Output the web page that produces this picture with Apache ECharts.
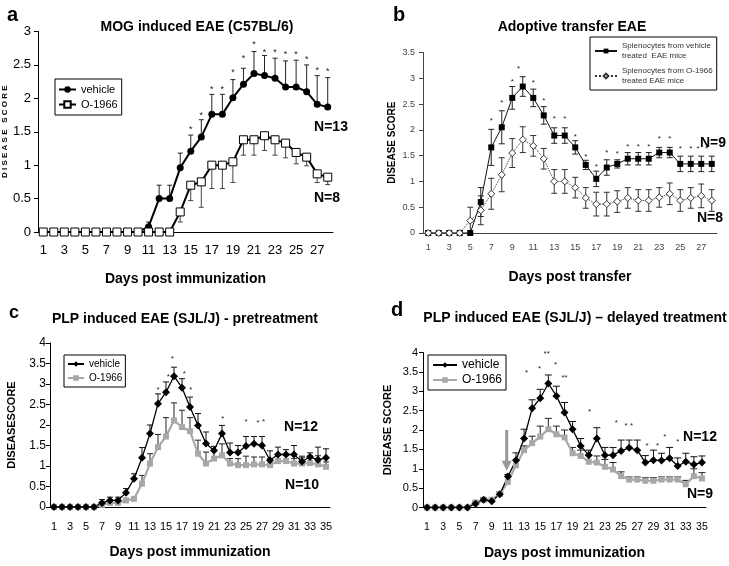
<!DOCTYPE html>
<html>
<head>
<meta charset="utf-8">
<script src="https://cdn.jsdelivr.net/npm/echarts@6/dist/echarts.min.js"></script>
<style>
  html, body { margin: 0; padding: 0; background: #fff; }
  #chart { width: 729px; height: 566px; }
</style>
</head>
<body>
<div id="chart"></div>
<script>
// ---- data ----
const days28 = ['1','2','3','4','5','6','7','8','9','10','11','12','13','14','15','16','17','18','19','20','21','22','23','24','25','26','27','28'];
const days35 = ['1','2','3','4','5','6','7','8','9','10','11','12','13','14','15','16','17','18','19','20','21','22','23','24','25','26','27','28','29','30','31','32','33','34','35'];

// a: MOG induced EAE
const aVehicle = [0,0,0,0,0,0,0,0,0,0,0.08,0.5,0.5,0.96,1.21,1.42,1.76,1.76,2.01,2.21,2.37,2.34,2.30,2.17,2.17,2.10,1.91,1.87];
const aVehicleErr = [0,0,0,0,0,0,0,0,0,0,0.07,0.2,0.2,0.22,0.24,0.26,0.30,0.30,0.27,0.24,0.33,0.30,0.30,0.39,0.40,0.40,0.43,0.44];
const aO1966 = [0,0,0,0,0,0,0,0,0,0,0,0,0,0.30,0.70,0.75,1.0,1.0,1.05,1.38,1.38,1.44,1.38,1.33,1.19,1.12,0.87,0.82];
const aO1966Err = [0,0,0,0,0,0,0,0,0,0,0,0,0,0.15,0.23,0.38,0.35,0.35,0.31,0.23,0.23,0.22,0.23,0.22,0.17,0.13,0.13,0.11];
const aStarDay = [15,16,17,18,19,20,21,22,23,24,25,26,27,28];
const aStarY = [1.54,1.74,2.13,2.13,2.38,2.59,2.80,2.68,2.68,2.65,2.65,2.58,2.42,2.40];

// b: adoptive transfer
const bVehicle = [0,0,0,0,0,0.60,1.66,2.05,2.62,2.84,2.62,2.28,1.89,1.89,1.66,1.32,1.05,1.27,1.34,1.44,1.44,1.44,1.56,1.56,1.34,1.34,1.34,1.34];
const bVehicleErr = [0,0,0,0,0,0.28,0.35,0.32,0.22,0.19,0.17,0.17,0.15,0.15,0.13,0.09,0.15,0.15,0.08,0.12,0.12,0.12,0.1,0.1,0.15,0.15,0.15,0.15];
const bO1966 = [0,0,0,0,0.24,0.44,0.76,1.13,1.55,1.81,1.69,1.44,1.0,1.0,0.88,0.68,0.56,0.56,0.61,0.68,0.63,0.63,0.69,0.76,0.63,0.68,0.72,0.63];
const bO1966Err = [0,0,0,0,0.26,0.28,0.3,0.33,0.28,0.25,0.2,0.2,0.23,0.23,0.2,0.2,0.23,0.23,0.21,0.2,0.21,0.21,0.19,0.21,0.21,0.2,0.23,0.21];
const bStarDay = [7,8,9,9.6,11,12,13,14,15,16,17,18,19,20,21,22,23,24,25,26,26.7,27.5];
const bStarY = [2.18,2.53,2.94,3.18,2.92,2.56,2.22,2.22,1.86,1.47,1.28,1.55,1.53,1.68,1.68,1.68,1.83,1.83,1.63,1.63,1.63,1.63];

// c: PLP pretreatment
const cVehicle = [0,0,0,0,0,0,0.1,0.16,0.16,0.35,0.69,1.2,1.79,2.52,2.8,3.19,2.91,2.44,1.99,1.55,1.38,1.79,1.33,1.33,1.49,1.54,1.5,1.14,1.28,1.28,1.28,1.11,1.22,1.15,1.2];
const cVehicleErr = [0,0,0,0,0,0,0.08,0.08,0.08,0.1,0.12,0.25,0.21,0.24,0.25,0.22,0.22,0.24,0.29,0.28,0.1,0.2,0.23,0.17,0.23,0.18,0.22,0.23,0.18,0.12,0.22,0.13,0.1,0.31,0.22];
const cO1966 = [0,0,0,0,0,0,0.05,0.1,0.1,0.16,0.2,0.57,1.06,1.46,1.72,2.11,1.95,1.85,1.30,1.06,1.18,1.26,1.06,1.02,1.02,1.04,1.04,1.02,1.12,1.12,1.06,1.06,1.07,1.04,0.98];
const cO1966Err = [0,0,0,0,0,0,0.05,0.05,0.05,0.05,0.05,0.2,0.24,0.31,0.46,0.43,0.41,0.33,0.33,0.28,0.2,0.28,0.12,0.16,0.22,0.18,0.18,0.16,0.14,0.14,0.12,0.14,0.18,0.21,0.12];
const cStarDay = [14,15.3,15.8,17.3,18.1,22.1,25,26.5,27.2];
const cStarY = [2.85,3.17,3.62,3.25,2.85,2.15,2.07,2.05,2.07];

// d: PLP delayed treatment
const dVehicle = [0,0,0,0,0,0,0.1,0.2,0.16,0.34,0.8,1.22,1.78,2.56,2.82,3.2,2.88,2.45,2.02,1.59,1.35,1.78,1.35,1.35,1.46,1.54,1.48,1.16,1.22,1.21,1.27,1.07,1.18,1.11,1.16];
const dVehicleErr = [0,0,0,0,0,0,0.05,0.05,0.05,0.06,0.05,0.19,0.24,0.22,0.23,0.22,0.25,0.26,0.2,0.19,0.13,0.28,0.2,0.2,0.28,0.2,0.26,0.18,0.26,0.19,0.28,0.21,0.22,0.2,0.17];
const dO1966 = [0,0,0,0,0,0,0.13,0.2,0.2,0.35,0.66,1.09,1.48,1.66,1.83,2.02,1.89,1.81,1.40,1.33,1.18,1.16,1.05,0.98,0.81,0.72,0.72,0.69,0.69,0.72,0.72,0.72,0.6,0.81,0.75];
const dO1966Err = [0,0,0,0,0,0,0,0,0,0,0,0,0.11,0.18,0.27,0.28,0.21,0.19,0.15,0.15,0.17,0.17,0.19,0.18,0.11,0.07,0.07,0.08,0.08,0.07,0.07,0.07,0.1,0.19,0.15];
const dStarDay = [13.3,14.9,15.8,16.9,18.0,21.1,24.4,25.6,26.3,28.2,29.5,30.4,32.0];
const dStarY = [3.47,3.57,3.97,3.68,3.34,2.47,2.19,2.10,2.10,1.59,1.59,1.83,1.70];
const dStarText = ['*','*','**','*','**','*','*','*','*','*','*','*','*'];
const dArrowDay = [10.85];
const dArrowFrom = [2.0];
const dArrowTo = [0.95];

// ---- helpers ----
const fontNarrow = '"Liberation Sans Narrow", "Arial Narrow", "Liberation Sans", Arial, sans-serif';
const fontBold = '"Liberation Sans", Arial, sans-serif';

const legendText = {
  a_veh: 'vehicle', a_o: 'O-1966',
  b_veh: 'Splenocytes from vehicle\ntreated  EAE mice',
  b_o: 'Splenocytes from O-1966\ntreated EAE mice',
  c_veh: 'vehicle', c_o: 'O-1966',
  d_veh: 'vehicle', d_o: 'O-1966'
};

function catAxis(grid, data, o) {
  return {
    type: 'category', gridIndex: grid, data: data, boundaryGap: true,
    axisLine: { lineStyle: { color: o.color, width: 1 } },
    axisTick: { interval: 0, length: 4, lineStyle: { color: o.color } },
    axisLabel: { interval: 1, fontSize: o.fs, fontFamily: fontNarrow, color: o.color, margin: o.margin },
    splitLine: { show: false },
    name: o.name, nameLocation: 'middle', nameGap: o.nameGap,
    nameTextStyle: { fontSize: 14, fontWeight: 'bold', fontFamily: fontBold, color: '#000' }
  };
}
function valAxis(grid, n) {
  return { type: 'value', gridIndex: grid, min: 0.5, max: n + 0.5, show: false };
}
function yAxisOf(grid, max, o) {
  return {
    type: 'value', gridIndex: grid, min: 0, max: max, interval: 0.5,
    axisLine: { show: true, lineStyle: { color: o.color, width: 1 } },
    axisTick: { show: true, length: 4, lineStyle: { color: o.color } },
    axisLabel: { fontSize: o.fs, fontFamily: fontNarrow, color: o.color, margin: o.margin },
    splitLine: { show: false },
    name: o.name, nameLocation: 'middle', nameGap: o.nameGap, nameRotate: 90,
    nameTextStyle: { fontSize: o.nameFs, fontWeight: 'bold', fontFamily: fontBold, color: '#000' }
  };
}

// error bars: dir 1 = up, -1 = down, 0 = both
function errSeries(grid, values, errs, dir, cap, color) {
  return {
    type: 'custom', xAxisIndex: grid * 2, yAxisIndex: grid, z: 1,
    data: values.map((v, i) => [i, v, errs[i]]),
    renderItem: function (params, api) {
      const i = api.value(0), v = api.value(1), e = api.value(2);
      if (!e) return null;
      const dirs = dir === 0 ? [1, -1] : [dir];
      const kids = [];
      const p0 = api.coord([i, v]);
      dirs.forEach(function (d) {
        const p1 = api.coord([i, v + d * e]);
        kids.push({ type: 'line', shape: { x1: p0[0], y1: p0[1], x2: p1[0], y2: p1[1] }, style: { stroke: color, lineWidth: 1 } });
        kids.push({ type: 'line', shape: { x1: p1[0] - cap / 2, y1: p1[1], x2: p1[0] + cap / 2, y2: p1[1] }, style: { stroke: color, lineWidth: 1 } });
      });
      return { type: 'group', children: kids };
    }
  };
}
function starSeries(grid, xs, ys, texts, fs) {
  return {
    type: 'custom', xAxisIndex: grid * 2 + 1, yAxisIndex: grid, z: 3,
    data: xs.map((x, i) => [x, ys[i], i]),
    renderItem: function (params, api) {
      const p = api.coord([api.value(0), api.value(1)]);
      const t = texts ? texts[api.value(2)] : '*';
      return { type: 'text', x: p[0], y: p[1], style: { text: t, fill: '#222', font: fs + 'px ' + fontBold, align: 'center', verticalAlign: 'middle' } };
    }
  };
}
function lineSeries(name, grid, data, o) {
  return {
    name: name, type: 'line', xAxisIndex: grid * 2, yAxisIndex: grid, data: data, z: 2,
    showAllSymbol: true, symbol: o.symbol, symbolSize: o.size,
    lineStyle: { color: o.line, width: o.width, type: o.type || 'solid' },
    itemStyle: { color: o.fill, borderColor: o.border, borderWidth: o.bw || 0 }
  };
}
function legendOf(names, o) {
  return {
    data: names, orient: 'vertical', left: o.left, top: o.top, selectedMode: false,
    borderColor: '#000', borderWidth: 1, padding: o.padding, itemGap: o.gap,
    itemWidth: o.iw, itemHeight: o.ih,
    textStyle: { fontSize: o.fs, fontFamily: fontNarrow, color: o.color || '#000', lineHeight: o.lh },
    formatter: function (n) { return legendText[n]; }
  };
}
function txt(text, x, y, size, align) {
  return { type: 'text', x: x, y: y, style: { text: text, font: 'bold ' + size + 'px ' + fontBold, fill: '#000', align: align || 'center', verticalAlign: 'middle' } };
}

const chart = echarts.init(document.getElementById('chart'), null, { renderer: 'canvas' });
const option = {
  animation: false,
  backgroundColor: '#fff',
  grid: [
    { left: 35, top: 31.5, width: 298, height: 200.5 },
    { left: 423, top: 52.5, width: 294, height: 180.5 },
    { left: 50, top: 343, width: 280, height: 164 },
    { left: 423, top: 352.5, width: 283, height: 155 }
  ],
  xAxis: [
    catAxis(0, days28, { color: '#000', fs: 13, margin: 12, name: 'Days post immunization', nameGap: 40 }),
    valAxis(0, 28),
    catAxis(1, days28, { color: '#444', fs: 9, margin: 10, name: 'Days post transfer', nameGap: 37 }),
    valAxis(1, 28),
    catAxis(2, days35, { color: '#000', fs: 11, margin: 14, name: 'Days post immunization', nameGap: 38 }),
    valAxis(2, 35),
    catAxis(3, days35, { color: '#000', fs: 10.5, margin: 14, name: 'Days post immunization', nameGap: 39 }),
    valAxis(3, 35)
  ],
  yAxis: [
    yAxisOf(0, 3, { color: '#000', fs: 13, margin: 7, name: 'D I S E A S E   S C O R E', nameGap: 23, nameFs: 8 }),
    yAxisOf(1, 3.5, { color: '#444', fs: 9, margin: 8, name: 'DISEASE SCORE', nameGap: 26, nameFs: 10 }),
    yAxisOf(2, 4, { color: '#000', fs: 12, margin: 4, name: 'DISEASESCORE', nameGap: 33, nameFs: 11 }),
    yAxisOf(3, 4, { color: '#000', fs: 11, margin: 5, name: 'DISEASE SCORE', nameGap: 30, nameFs: 11 })
  ],
  legend: [
    legendOf(['a_veh', 'a_o'], { left: 55, top: 79, padding: [5, 4, 5, 3], gap: 4, iw: 17, ih: 8, fs: 11 }),
    legendOf(['b_veh', 'b_o'], { left: 590, top: 37, padding: [4, 4, 4, 4], gap: 5, iw: 22, ih: 6, fs: 8, lh: 10, color: '#333' }),
    legendOf(['c_veh', 'c_o'], { left: 64, top: 355, padding: [4, 3, 4, 3], gap: 4, iw: 16, ih: 7, fs: 10 }),
    legendOf(['d_veh', 'd_o'], { left: 428, top: 355, padding: [4, 4, 4, 4], gap: 3, iw: 24, ih: 7, fs: 12 })
  ],
  series: [
    // a
    errSeries(0, aVehicle, aVehicleErr, 1, 5, '#222'),
    errSeries(0, aO1966, aO1966Err, -1, 5, '#444'),
    lineSeries('a_veh', 0, aVehicle, { symbol: 'circle', size: 7, line: '#000', width: 2, fill: '#000' }),
    lineSeries('a_o', 0, aO1966, { symbol: 'rect', size: 8, line: '#000', width: 2, fill: '#fff', border: '#000', bw: 1 }),
    starSeries(0, aStarDay, aStarY, null, 9),
    // b
    errSeries(1, bVehicle, bVehicleErr, 0, 6, '#222'),
    errSeries(1, bO1966, bO1966Err, 0, 6, '#333'),
    lineSeries('b_veh', 1, bVehicle, { symbol: 'rect', size: 6, line: '#111', width: 1, fill: '#000' }),
    lineSeries('b_o', 1, bO1966, { symbol: 'diamond', size: 7, line: '#333', width: 1, type: 'dotted', fill: '#fff', border: '#333', bw: 1 }),
    starSeries(1, bStarDay, bStarY, null, 8),
    // c
    errSeries(2, cVehicle, cVehicleErr, 1, 6, '#111'),
    errSeries(2, cO1966, cO1966Err, 1, 6, '#222'),
    lineSeries('c_o', 2, cO1966, { symbol: 'rect', size: 6, line: '#a8a8a8', width: 2.2, fill: '#a8a8a8' }),
    lineSeries('c_veh', 2, cVehicle, { symbol: 'diamond', size: 8, line: '#000', width: 1.3, fill: '#000' }),
    starSeries(2, cStarDay, cStarY, null, 8),
    // d
    errSeries(3, dVehicle, dVehicleErr, 1, 7, '#111'),
    errSeries(3, dO1966, dO1966Err, 1, 7, '#222'),
    lineSeries('d_o', 3, dO1966, { symbol: 'rect', size: 6, line: '#a8a8a8', width: 2.2, fill: '#a8a8a8' }),
    lineSeries('d_veh', 3, dVehicle, { symbol: 'diamond', size: 8, line: '#000', width: 1.3, fill: '#000' }),
    starSeries(3, dStarDay, dStarY, dStarText, 8),
    {
      // treatment start arrow
      type: 'custom', xAxisIndex: 7, yAxisIndex: 3, z: 4,
      data: dArrowDay.map((x, i) => [x, dArrowFrom[i], dArrowTo[i]]),
      renderItem: function (params, api) {
        const p0 = api.coord([api.value(0), api.value(1)]);
        const p1 = api.coord([api.value(0), api.value(2)]);
        return {
          type: 'group', children: [
            { type: 'line', shape: { x1: p0[0], y1: p0[1], x2: p1[0], y2: p1[1] - 8 }, style: { stroke: '#999', lineWidth: 3 } },
            { type: 'polygon', shape: { points: [[p1[0] - 5, p1[1] - 10], [p1[0] + 5, p1[1] - 10], [p1[0], p1[1]]] }, style: { fill: '#999' } }
          ]
        };
      }
    }
  ],
  graphic: [
    txt('a', 7, 15, 20, 'left'),
    txt('b', 393, 15, 20, 'left'),
    txt('c', 9, 313, 18, 'left'),
    txt('d', 391, 310, 20, 'left'),
    txt('MOG induced EAE (C57BL/6)', 197, 27, 14),
    txt('Adoptive transfer EAE', 572, 27, 14),
    txt('PLP induced EAE (SJL/J) - pretreatment', 185, 319, 14),
    txt('PLP induced EAE (SJL/J) \u2013 delayed treatment', 575, 318, 14),
    txt('N=13', 331, 127, 14),
    txt('N=8', 327, 198, 14),
    txt('N=9', 713, 143, 14),
    txt('N=8', 710, 218, 14),
    txt('N=12', 301, 427, 14),
    txt('N=10', 302, 485, 14),
    txt('N=12', 700, 437, 14),
    txt('N=9', 700, 494, 14)
  ]
};
chart.setOption(option);
</script>
</body>
</html>
